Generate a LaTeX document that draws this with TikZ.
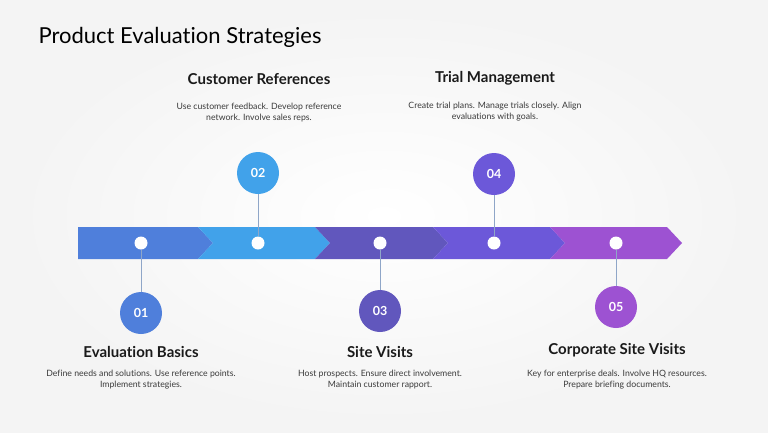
\documentclass[tikz,border=0pt]{standalone}
\usepackage{fontspec}
\setmainfont{Lato}[Ligatures=NoCommon]
\usetikzlibrary{shapes}

\definecolor{stepA}{HTML}{4F7FDB}
\definecolor{stepB}{HTML}{41A2EA}
\definecolor{stepC}{HTML}{6157BD}
\definecolor{stepD}{HTML}{6C58D9}
\definecolor{stepE}{HTML}{9D52D2}
\definecolor{stemline}{HTML}{8FA6C8}
\definecolor{inktext}{HTML}{1A1A1A}
\definecolor{bodytext}{HTML}{3A3A3A}

\tikzset{
	dot/.style={circle, fill=white, minimum size=13pt, inner sep=0pt},
	badge/.style={circle, minimum size=42pt, inner sep=0pt, text=white,
		font=\fontsize{12.5}{14}\selectfont\bfseries},
	stem/.style={stemline, line width=0.8pt},
	heading/.style={font=\fontsize{15}{17}\selectfont\bfseries, text=inktext},
	blurb/.style={font=\fontsize{8.7}{11}\selectfont, text=bodytext, align=center}
}

\begin{document}
\begin{tikzpicture}[x=1pt, y=-1pt]
		\useasboundingbox (0,0) rectangle (768,432);
		%% Background
		\shade[inner color=white, outer color=gray!9] (0,0) rectangle (768,432);
		\node[anchor=west, font=\fontsize{22}{26}\selectfont, text=black] (title)
			at (35,37) {Product Evaluation Strategies};
		%% The band, drawn back to front
		\fill[stepA] (78,227) -- (198,227) -- (213,243) -- (198,259) -- (78,259) -- cycle;
		\fill[stepB] (198,227) -- (315,227) -- (330,243) -- (315,259) -- (198,259) -- (213,243) -- cycle;
		\fill[stepC] (315,227) -- (433,227) -- (448,243) -- (433,259) -- (315,259) -- (330,243) -- cycle;
		\fill[stepD] (433,227) -- (550,227) -- (565,243) -- (550,259) -- (433,259) -- (448,243) -- cycle;
		\fill[stepE] (550,227) -- (667,227) -- (682,243) -- (667,259) -- (550,259) -- (565,243) -- cycle;
		%% Dots on the band
		\node[dot] (d1) at (141,243) {};
		\node[dot] (d2) at (258,243) {};
		\node[dot] (d3) at (380,243) {};
		\node[dot] (d4) at (494,243) {};
		\node[dot] (d5) at (616,243) {};
		%% Number badges
		\node[badge, fill=stepA] (c1) at (141,313) {01};
		\node[badge, fill=stepB] (c2) at (258,173) {02};
		\node[badge, fill=stepC] (c3) at (380,311) {03};
		\node[badge, fill=stepD] (c4) at (494,174) {04};
		\node[badge, fill=stepE] (c5) at (616,307) {05};
		% stems from badge to dot
		\draw[stem] (c1) -- (d1);
		\draw[stem] (c2) -- (d2);
		\draw[stem] (c3) -- (d3);
		\draw[stem] (c4) -- (d4);
		\draw[stem] (c5) -- (d5);
		%% Headings
		\node[heading] (h1) at (141,352) {Evaluation Basics};
		\node[heading] (h2) at (259,79) {Customer References};
		\node[heading] (h3) at (380,352) {Site Visits};
		\node[heading] (h4) at (495,78) {Trial Management};
		\node[heading] (h5) at (617,350) {Corporate Site Visits};
		%% Texts
		\node[blurb] (t1) at (141,380) {Define needs and solutions. Use reference points.\\Implement strategies.};
		\node[blurb] (t2) at (259,113) {Use customer feedback. Develop reference\\network. Involve sales reps.};
		\node[blurb] (t3) at (380,380) {Host prospects. Ensure direct involvement.\\Maintain customer rapport.};
		\node[blurb] (t4) at (495,112) {Create trial plans. Manage trials closely. Align\\evaluations with goals.};
		\node[blurb] (t5) at (617,380) {Key for enterprise deals. Involve HQ resources.\\Prepare briefing documents.};
	\end{tikzpicture}
\end{document}
